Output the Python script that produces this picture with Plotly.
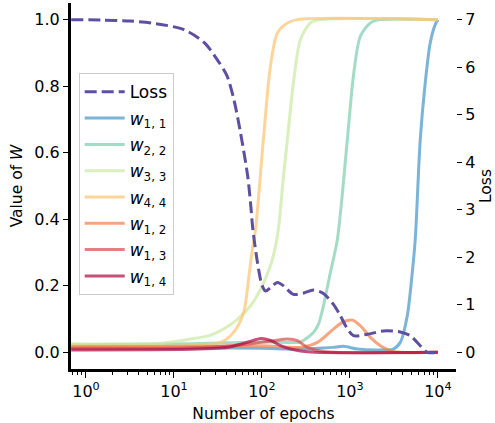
import plotly.graph_objects as go

# ---- data -----------------------------------------------------------------
loss_epochs = [0.68, 1.5, 3.2, 5.5, 13, 22, 31, 40, 48, 57, 69, 75, 79, 89, 100,
               110, 125, 150, 176, 228, 300, 385, 500, 650, 780, 920, 1100,
               1580, 2400, 3740, 4860, 6300, 7570, 10000]
loss_values = [7.00, 6.99, 6.97, 6.93, 6.79, 6.52, 6.16, 5.82, 5.32, 4.63, 3.70,
               3.05, 2.58, 1.89, 1.42, 1.29, 1.36, 1.47, 1.40, 1.22, 1.25, 1.31,
               1.24, 1.01, 0.77, 0.52, 0.35, 0.38, 0.45, 0.43, 0.35, 0.14, 0.0,
               0.0]

w11_epochs = [0.68, 30, 100, 274, 500, 649, 844, 1216, 2050, 3113, 3740, 4489,
              5116, 5533, 6306, 7183, 8183, 9323, 10000]
w11_values = [0.013, 0.013, 0.012, 0.010, 0.013, 0.015, 0.018, 0.010, 0.007,
              0.010, 0.03, 0.11, 0.24, 0.34, 0.64, 0.81, 0.93, 0.985, 1.0]

w22_epochs = [0.68, 15.5, 100, 211, 274, 385, 440, 500, 600, 721, 936, 1096,
              1315, 1707, 2218, 10000]
w22_values = [0.023, 0.026, 0.031, 0.030, 0.031, 0.06, 0.085, 0.14, 0.24, 0.34,
              0.64, 0.83, 0.95, 0.99, 1.0, 1.0]

w33_epochs = [0.68, 7.1, 15.5, 26.2, 36.7, 53, 74.3, 96.6, 125, 143, 154, 176,
              195, 228, 274, 356, 462, 10000]
w33_values = [0.026, 0.027, 0.04, 0.052, 0.07, 0.10, 0.14, 0.19, 0.26, 0.32,
              0.37, 0.53, 0.64, 0.81, 0.94, 0.99, 1.0, 1.0]

w44_epochs = [0.68, 15, 34, 47.6, 62, 70.5, 78, 84.7, 104, 125, 150, 195, 253,
              10000]
w44_values = [0.020, 0.021, 0.03, 0.06, 0.12, 0.22, 0.31, 0.37, 0.64, 0.86,
              0.96, 0.99, 1.0, 1.0]

w12_epochs = [0.68, 50, 100, 211, 274, 427, 649, 844, 1066, 1315, 1707, 2218,
              2879, 3738, 10000]
w12_values = [0.017, 0.018, 0.020, 0.015, 0.015, 0.03, 0.07, 0.092, 0.097,
              0.08, 0.045, 0.02, 0.005, 0.0, 0.0]

w13_epochs = [0.68, 15.5, 44, 74, 96.6, 143, 195, 253, 329, 462, 650, 10000]
w13_values = [0.012, 0.014, 0.02, 0.025, 0.03, 0.036, 0.04, 0.035, 0.015,
              0.004, 0.0, 0.0]

w14_epochs = [0.68, 15.5, 30, 44, 70, 97, 125, 163, 211, 274, 400, 10000]
w14_values = [0.007, 0.009, 0.012, 0.017, 0.031, 0.042, 0.036, 0.02, 0.01,
              0.004, 0.0, 0.0]

x_tick_vals = [1, 10, 100, 1000, 10000]
x_tick_text = ["10<sup>0</sup>", "10<sup>1</sup>", "10<sup>2</sup>",
               "10<sup>3</sup>", "10<sup>4</sup>"]
w_tick_vals = [0.0, 0.2, 0.4, 0.6, 0.8, 1.0]
w_tick_text = ["0.0", "0.2", "0.4", "0.6", "0.8", "1.0"]
loss_tick_vals = [0, 1, 2, 3, 4, 5, 6, 7]

# ---- figure ---------------------------------------------------------------
FONT = "DejaVu Sans"
FS = 15.5      # axis titles
FS_TICK = 16   # tick labels
FS_LEG = 17    # legend entries

w_series = [
    ("<i>w</i><sub>1, 1</sub>", w11_epochs, w11_values, "rgba(67,148,197,0.7)"),
    ("<i>w</i><sub>2, 2</sub>", w22_epochs, w22_values, "rgba(124,205,171,0.7)"),
    ("<i>w</i><sub>3, 3</sub>", w33_epochs, w33_values, "rgba(201,232,161,0.7)"),
    ("<i>w</i><sub>4, 4</sub>", w44_epochs, w44_values, "rgba(252,195,111,0.7)"),
    ("<i>w</i><sub>1, 2</sub>", w12_epochs, w12_values, "rgba(246,126,71,0.7)"),
    ("<i>w</i><sub>1, 3</sub>", w13_epochs, w13_values, "rgba(219,72,74,0.7)"),
    ("<i>w</i><sub>1, 4</sub>", w14_epochs, w14_values, "rgba(174,5,64,0.7)"),
]

fig = go.Figure()
for i, (name, xs, ys, color) in enumerate(w_series):
    fig.add_trace(go.Scatter(
        x=xs, y=ys, mode="lines", name=name, yaxis="y",
        legendgroup=f"g{i + 1}", legendrank=i + 2,
        line=dict(color=color, width=3, shape="spline", smoothing=0.8),
    ))

fig.add_trace(go.Scatter(
    x=loss_epochs, y=loss_values, mode="lines", name="Loss", yaxis="y2",
    legendgroup="g0", legendrank=1,
    line=dict(color="#5e4fa2", width=3, dash="12px,5px", shape="spline",
              smoothing=0.8),
))

minor_vals = [m * 10 ** e for e in range(-1, 5) for m in range(2, 10)]

fig.update_layout(
    width=495, height=423,
    margin=dict(l=71, r=39, t=3, b=54),
    paper_bgcolor="white", plot_bgcolor="white",
    font=dict(family=FONT, size=FS, color="black"),
    showlegend=True,
    legend=dict(
        x=0.02, y=0.808, xanchor="left", yanchor="top",
        bgcolor="rgba(255,255,255,0.8)", bordercolor="#cccccc", borderwidth=1,
        font=dict(family=FONT, size=FS_LEG), tracegroupgap=1.2, itemwidth=40,
        traceorder="grouped",
    ),
    xaxis=dict(
        type="log", range=[-0.17, 4.206],
        showline=True, linewidth=3, linecolor="black", mirror=False,
        showgrid=False, zeroline=False,
        ticks="outside", ticklen=6, tickwidth=1.2, tickcolor="black",
        tickfont=dict(size=FS_TICK),
        tickmode="array", tickvals=x_tick_vals, ticktext=x_tick_text,
        minor=dict(ticks="outside", ticklen=3, tickwidth=0.8,
                   tickcolor="black", tickvals=minor_vals, showgrid=False),
        title=dict(text="Number of epochs", font=dict(size=FS), standoff=8),
    ),
    yaxis=dict(
        range=[-0.05, 1.05],
        showline=True, linewidth=3, linecolor="black", mirror=False,
        showgrid=False, zeroline=False,
        ticks="outside", ticklen=5, tickwidth=1.2, tickcolor="black",
        tickfont=dict(size=FS_TICK),
        tickmode="array", tickvals=w_tick_vals, ticktext=w_tick_text,
        title=dict(text="Value of <i>W</i>", font=dict(size=FS), standoff=8),
    ),
    yaxis2=dict(
        overlaying="y", side="right", range=[-0.35, 7.35],
        showline=False, showgrid=False, zeroline=False,
        ticks="outside", ticklen=5, tickwidth=1.2, tickcolor="black",
        tickfont=dict(size=FS_TICK),
        tickmode="array", tickvals=loss_tick_vals,
        title=dict(text="Loss", font=dict(size=FS), standoff=6),
    ),
)

fig.write_html("out.html")
